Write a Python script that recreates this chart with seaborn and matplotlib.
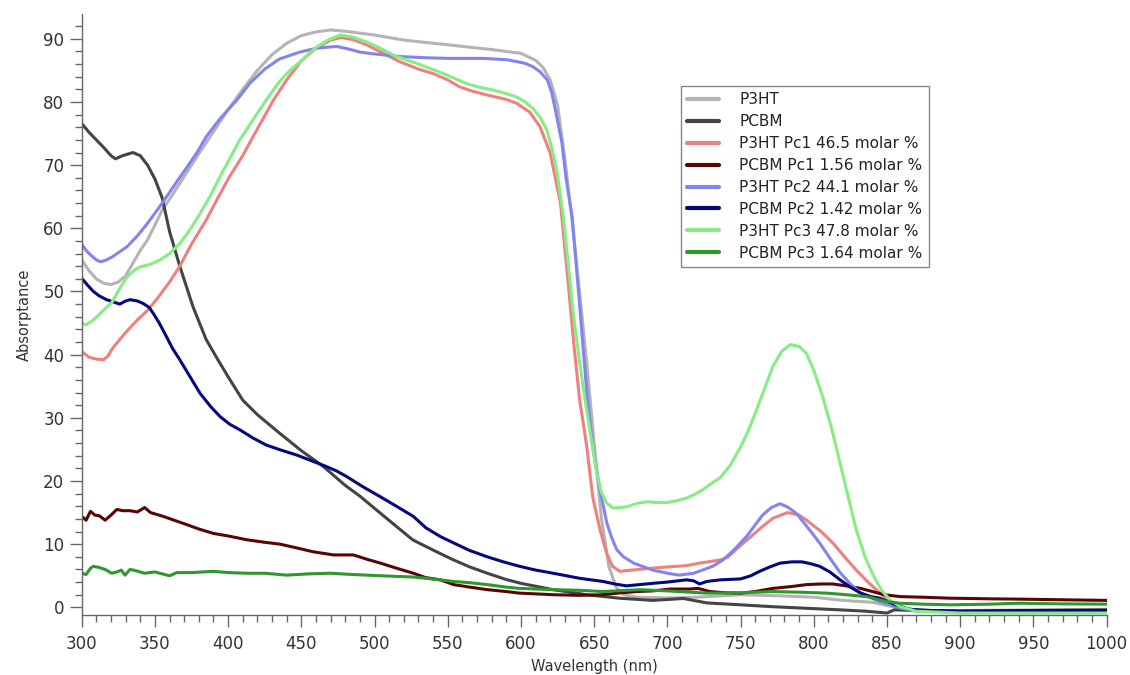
import numpy as np
import pandas as pd
import matplotlib
matplotlib.use("Agg")
import matplotlib.pyplot as plt
import seaborn as sns
from matplotlib.ticker import MultipleLocator

# ---------------- data ----------------
p3ht_wl = [300, 305, 310, 315, 320, 325, 330, 335, 340, 345, 350, 355, 360, 370, 380, 390, 400, 410, 420, 430,
           440, 450, 460, 470, 480, 490, 500, 520, 540, 560, 580, 600, 610, 615, 620, 625, 630, 635, 640, 645,
           650, 655, 660, 665, 670, 680, 700, 720, 750, 780, 800, 820, 840, 860, 880, 900, 950, 1000]
p3ht_val = [55.0, 53.3, 52.0, 51.3, 51.1, 51.5, 52.5, 54.5, 56.5, 58.2, 60.5, 62.9, 64.6, 68.2, 71.8, 75.3, 78.8, 82.0, 85.0, 87.5,
            89.3, 90.5, 91.1, 91.4, 91.2, 90.9, 90.6, 89.8, 89.3, 88.8, 88.3, 87.7, 86.6, 85.5, 83.5, 79.5, 71.0, 61.0, 50.0, 38.5,
            26.0, 14.0, 6.5, 3.2, 2.0, 1.6, 1.5, 1.6, 2.0, 1.8, 1.6, 1.1, 0.8, -0.2, -0.6, -0.5, -0.4, -0.3]

pcbm_wl = [300, 305, 310, 315, 320, 323, 328, 335, 340, 345, 350, 355, 360, 367, 376, 385, 393, 400, 410, 420,
           435, 450, 465, 480, 490, 504, 515, 526, 531, 545, 554, 565, 577, 590, 600, 622, 645, 667, 690, 711,
           727, 750, 772, 800, 818, 835, 850, 855, 870, 900, 950, 1000]
pcbm_val = [76.6, 75.2, 74.0, 72.8, 71.5, 71.0, 71.5, 72.0, 71.5, 70.0, 67.8, 64.8, 59.5, 54.0, 47.6, 42.4, 39.2, 36.5, 32.8, 30.5,
            27.6, 24.8, 22.3, 19.3, 17.6, 14.9, 12.8, 10.7, 10.1, 8.5, 7.5, 6.4, 5.4, 4.4, 3.8, 2.8, 2.0, 1.45, 1.1, 1.4,
            0.7, 0.4, 0.1, -0.2, -0.4, -0.6, -0.9, -0.4, -0.5, -0.6, -0.5, -0.4]

pc1_p3ht_wl = [300, 305, 310, 315, 318, 321, 330, 338, 345, 351, 360, 367, 375, 385, 393, 401, 410, 417, 431, 440,
               450, 460, 470, 477, 485, 495, 506, 517, 530, 540, 550, 558, 567, 577, 590, 597, 606, 613, 620, 627,
               632, 636, 640, 645, 649, 654, 658.5, 662.5, 667.5, 680, 690, 700, 713, 722, 736, 741, 750, 757, 765, 772,
               782, 790, 795, 805, 813, 821, 829, 837, 845, 852, 859, 870, 900, 950, 1000]
pc1_p3ht_val = [40.5, 39.6, 39.3, 39.2, 39.8, 41.0, 43.5, 45.5, 47.0, 48.7, 51.5, 54.0, 57.5, 61.3, 64.8, 68.2, 71.5, 74.5, 80.3, 83.5,
                86.5, 88.5, 89.8, 90.2, 89.9, 89.0, 87.7, 86.4, 85.2, 84.5, 83.5, 82.4, 81.7, 81.1, 80.4, 79.8, 78.4, 76.1, 71.9, 64.0,
                52.0, 42.0, 33.0, 25.4, 17.5, 12.3, 8.6, 6.5, 5.7, 6.0, 6.2, 6.4, 6.6, 7.0, 7.5, 7.9, 9.8, 11.2, 12.8, 14.1,
                15.0, 14.6, 13.8, 12.0, 10.2, 8.0, 5.9, 4.0, 2.3, 1.0, 0.1, -0.5, -0.8, -0.8, -0.7]

pc1_pcbm_wl = [300, 303, 306, 309, 312, 316, 320, 324, 328, 333, 338, 343, 347, 355.7, 363, 371.7, 380, 390, 400, 412.7,
               425, 435.5, 447, 458, 472, 485.5, 495, 504, 515, 526.5, 535, 545, 554, 565, 577, 590, 599, 622, 640, 656,
               668, 679, 690, 702, 715, 721, 729, 740, 750, 760, 772, 785, 795, 805, 813, 822, 832, 840, 848, 859,
               875, 893, 920, 940, 970, 1000]
pc1_pcbm_val = [14.4, 13.8, 15.2, 14.6, 14.5, 13.8, 14.6, 15.5, 15.3, 15.3, 15.1, 15.8, 15.0, 14.4, 13.8, 13.1, 12.4, 11.7, 11.3, 10.7,
                10.3, 10.0, 9.4, 8.8, 8.3, 8.3, 7.6, 7.0, 6.2, 5.4, 4.7, 4.35, 3.6, 3.2, 2.8, 2.5, 2.25, 2.0, 1.9, 2.0,
                2.3, 2.5, 2.6, 2.9, 2.9, 3.0, 2.5, 2.3, 2.25, 2.5, 3.0, 3.3, 3.6, 3.7, 3.7, 3.4, 3.0, 2.5, 2.0, 1.7,
                1.6, 1.45, 1.35, 1.3, 1.2, 1.1]

pc2_p3ht_wl = [300, 303, 306, 310, 313, 317, 321, 326, 331, 338, 344, 351, 358, 365, 372, 379, 385, 395, 406, 415,
               425, 435, 449, 460, 474, 482, 490, 500, 517, 535, 551, 574, 590, 597, 603, 608, 613, 618, 621, 624,
               628, 631, 635, 640, 645, 649, 654, 658.6, 662, 665.5, 670, 677, 690, 700, 708, 718, 724, 731, 738, 746,
               754, 765, 771, 777, 782, 788, 796, 804, 811, 818, 825, 832, 845, 859, 870, 900, 950, 1000]
pc2_p3ht_val = [57.5, 56.5, 55.8, 55.0, 54.7, 55.0, 55.5, 56.3, 57.1, 58.8, 60.5, 62.7, 65.0, 67.4, 69.7, 72.1, 74.5, 77.5, 80.3, 83.0,
                85.2, 86.8, 87.9, 88.5, 88.8, 88.4, 87.9, 87.6, 87.2, 87.0, 86.9, 86.9, 86.7, 86.4, 86.1, 85.6, 84.8, 83.5, 81.5, 78.2,
                73.5, 67.6, 61.8, 48.0, 34.0, 25.4, 18.6, 13.4, 11.0, 9.1, 8.0, 7.0, 5.9, 5.4, 5.1, 5.4, 5.9, 6.5, 7.5, 9.2,
                11.2, 14.6, 15.8, 16.4, 15.9, 14.9, 12.6, 10.2, 7.8, 5.5, 3.7, 2.3, 0.9, -0.1, -0.6, -0.7, -0.7, -0.6]

pc2_pcbm_wl = [300, 304, 308, 312, 317, 321, 326, 330, 333, 338, 342, 346, 349, 353, 358, 362, 367, 374, 380.8, 388,
               394.5, 401, 408, 417, 426, 436, 447, 457, 467, 474, 481, 492, 504, 515, 526.5, 535, 545, 554, 565, 577,
               588, 599, 610, 622, 640, 656, 664, 672, 681, 690, 700, 713, 718, 722, 727, 736, 750, 757, 763, 770,
               777, 785, 792, 798, 804, 811, 818, 825, 832, 839, 845, 855, 865, 880, 900, 950, 1000]
pc2_pcbm_val = [52.1, 51.0, 50.0, 49.3, 48.7, 48.4, 48.0, 48.5, 48.7, 48.5, 48.1, 47.5, 46.5, 45.0, 42.8, 41.0, 39.2, 36.5, 33.9, 31.8,
                30.2, 29.0, 28.1, 26.8, 25.7, 24.9, 24.1, 23.2, 22.3, 21.6, 20.7, 19.1, 17.5, 16.0, 14.4, 12.6, 11.2, 10.2, 9.0, 8.0,
                7.2, 6.5, 5.9, 5.4, 4.6, 4.1, 3.7, 3.4, 3.6, 3.8, 4.0, 4.35, 4.2, 3.7, 4.1, 4.35, 4.5, 5.0, 5.7, 6.4,
                7.0, 7.2, 7.2, 6.9, 6.5, 5.6, 4.35, 3.2, 2.25, 1.7, 1.45, 0.5, -0.3, -0.5, -0.6, -0.5, -0.5]

pc3_p3ht_wl = [300, 303, 308, 312.5, 317, 321, 326, 331, 336, 340, 347, 353.5, 360, 367, 374, 381, 388, 394.5, 401, 408,
               417, 426, 435, 443, 449, 455, 460.5, 468, 476.5, 485, 494.7, 504, 513, 521, 529, 538, 547, 555, 563, 572,
               581, 589, 597, 603, 608, 613, 617.6, 621, 624.5, 629, 632, 636, 640, 643, 647, 651.8, 655, 658.6, 663, 672,
               680, 686, 693, 700, 707, 713, 718, 724, 730, 736, 743, 750, 755, 761, 767, 772, 778, 784, 790, 795,
               800, 806, 812, 818, 824, 829, 835, 841, 846, 852, 859, 870, 900, 950, 1000]
pc3_p3ht_val = [45.0, 44.7, 45.5, 46.5, 47.5, 48.4, 50.5, 52.3, 53.4, 53.9, 54.3, 55.0, 56.0, 57.6, 59.8, 62.4, 65.2, 68.2, 71.0, 74.0,
                77.2, 80.3, 83.2, 85.2, 86.3, 87.6, 88.7, 89.8, 90.6, 90.3, 89.5, 88.5, 87.4, 86.7, 86.1, 85.3, 84.5, 83.7, 82.9, 82.3,
                81.9, 81.4, 80.8, 80.0, 79.0, 77.6, 75.6, 72.8, 69.2, 61.8, 55.0, 46.0, 39.0, 34.0, 28.1, 21.2, 18.2, 16.5, 15.7, 15.9,
                16.5, 16.7, 16.6, 16.6, 16.9, 17.3, 17.8, 18.6, 19.6, 20.5, 22.5, 25.4, 27.8, 31.3, 35.0, 38.1, 40.5, 41.6, 41.3, 40.2,
                37.5, 33.4, 28.5, 22.8, 17.0, 12.3, 8.0, 4.9, 2.8, 1.2, 0.1, -0.6, -0.9, -0.9, -0.9]

pc3_pcbm_wl = [300, 303, 306, 308, 312, 316, 320.5, 324, 327, 329.6, 333, 337, 343, 350, 355, 360, 365, 375, 390, 400,
               412.7, 425, 440, 455, 470, 485, 504, 515, 526.5, 535, 545, 554, 565, 577, 590, 599, 622, 640, 656, 681,
               700, 727, 750, 772, 790, 809, 822, 836, 850, 859, 875, 893, 920, 940, 970, 1000]
pc3_pcbm_val = [5.4, 5.2, 6.2, 6.5, 6.3, 6.0, 5.4, 5.6, 5.9, 5.1, 6.0, 5.8, 5.4, 5.6, 5.3, 5.0, 5.5, 5.5, 5.7, 5.5,
                5.4, 5.4, 5.1, 5.3, 5.4, 5.2, 5.0, 4.9, 4.8, 4.6, 4.35, 4.1, 3.9, 3.6, 3.2, 3.0, 2.8, 2.7, 2.5, 2.8,
                2.6, 2.25, 2.3, 2.5, 2.4, 2.25, 2.0, 1.7, 0.9, 0.65, 0.5, 0.4, 0.5, 0.65, 0.55, 0.5]

series_labels = ["P3HT", "PCBM",
                 "P3HT Pc1 46.5 molar %", "PCBM Pc1 1.56 molar %",
                 "P3HT Pc2 44.1 molar %", "PCBM Pc2 1.42 molar %",
                 "P3HT Pc3 47.8 molar %", "PCBM Pc3 1.64 molar %"]
series_colors = ["#b4b4b4", "#444444", "#ee8080", "#5a0505",
                 "#8484ee", "#06067e", "#84ee84", "#2e982e"]

x_ticks = [300, 350, 400, 450, 500, 550, 600, 650, 700, 750, 800, 850, 900, 950, 1000]
y_ticks = [0, 10, 20, 30, 40, 50, 60, 70, 80, 90]

# ---------------- build long table ----------------
wls = [p3ht_wl, pcbm_wl, pc1_p3ht_wl, pc1_pcbm_wl, pc2_p3ht_wl, pc2_pcbm_wl, pc3_p3ht_wl, pc3_pcbm_wl]
vals = [p3ht_val, pcbm_val, pc1_p3ht_val, pc1_pcbm_val, pc2_p3ht_val, pc2_pcbm_val, pc3_p3ht_val, pc3_pcbm_val]
frames = []
for lab, w, v in zip(series_labels, wls, vals):
    frames.append(pd.DataFrame({"Wavelength": w, "Absorptance": v, "Series": lab}))
df = pd.concat(frames, ignore_index=True)

# ---------------- plot ----------------
sns.set_style("white")
plt.rcParams["font.family"] = ["DejaVu Sans"]

fig = plt.figure(figsize=(11.3, 6.75), dpi=100)
ax = fig.add_axes([0.0723, 0.089, 0.907, 0.890])

sns.lineplot(data=df, x="Wavelength", y="Absorptance", hue="Series",
             hue_order=series_labels, palette=dict(zip(series_labels, series_colors)),
             estimator=None, sort=False, linewidth=2.2, ax=ax)

ax.set_xlim(300, 1000)
ax.set_ylim(-1.2, 93.9)
ax.set_xticks(x_ticks)
ax.set_yticks(y_ticks)
ax.xaxis.set_minor_locator(MultipleLocator(10))
ax.yaxis.set_minor_locator(MultipleLocator(2))

for s in ["top", "right"]:
    ax.spines[s].set_visible(False)
for s in ["left", "bottom"]:
    ax.spines[s].set_color("#666666")
    ax.spines[s].set_linewidth(1.0)

ax.tick_params(axis="both", which="both", bottom=True, left=True, top=False, right=False)
ax.tick_params(axis="both", which="major", direction="out", length=8.5, width=1,
               color="#666666", labelsize=12, labelcolor="#333333")
ax.tick_params(axis="both", which="minor", direction="out", length=5, width=1, color="#666666")
ax.tick_params(axis="x", which="major", pad=6)
ax.tick_params(axis="y", which="major", pad=4)

ax.set_xlabel("Wavelength (nm)", fontsize=10.5, color="#333333", labelpad=4)
ax.set_ylabel("Absorptance", fontsize=10.5, color="#333333", labelpad=8)

leg = ax.legend(loc="upper left", bbox_to_anchor=(0.585, 0.88), fontsize=11,
                frameon=True, fancybox=False, framealpha=1, edgecolor="#888888",
                handlelength=2.1, handletextpad=1.3, labelspacing=0.45,
                borderpad=0.4, borderaxespad=0)
leg.get_frame().set_linewidth(1.0)
for line in leg.get_lines():
    line.set_linewidth(3.0)
for t in leg.get_texts():
    t.set_color("#222222")

fig.savefig("out.png", dpi=100)
